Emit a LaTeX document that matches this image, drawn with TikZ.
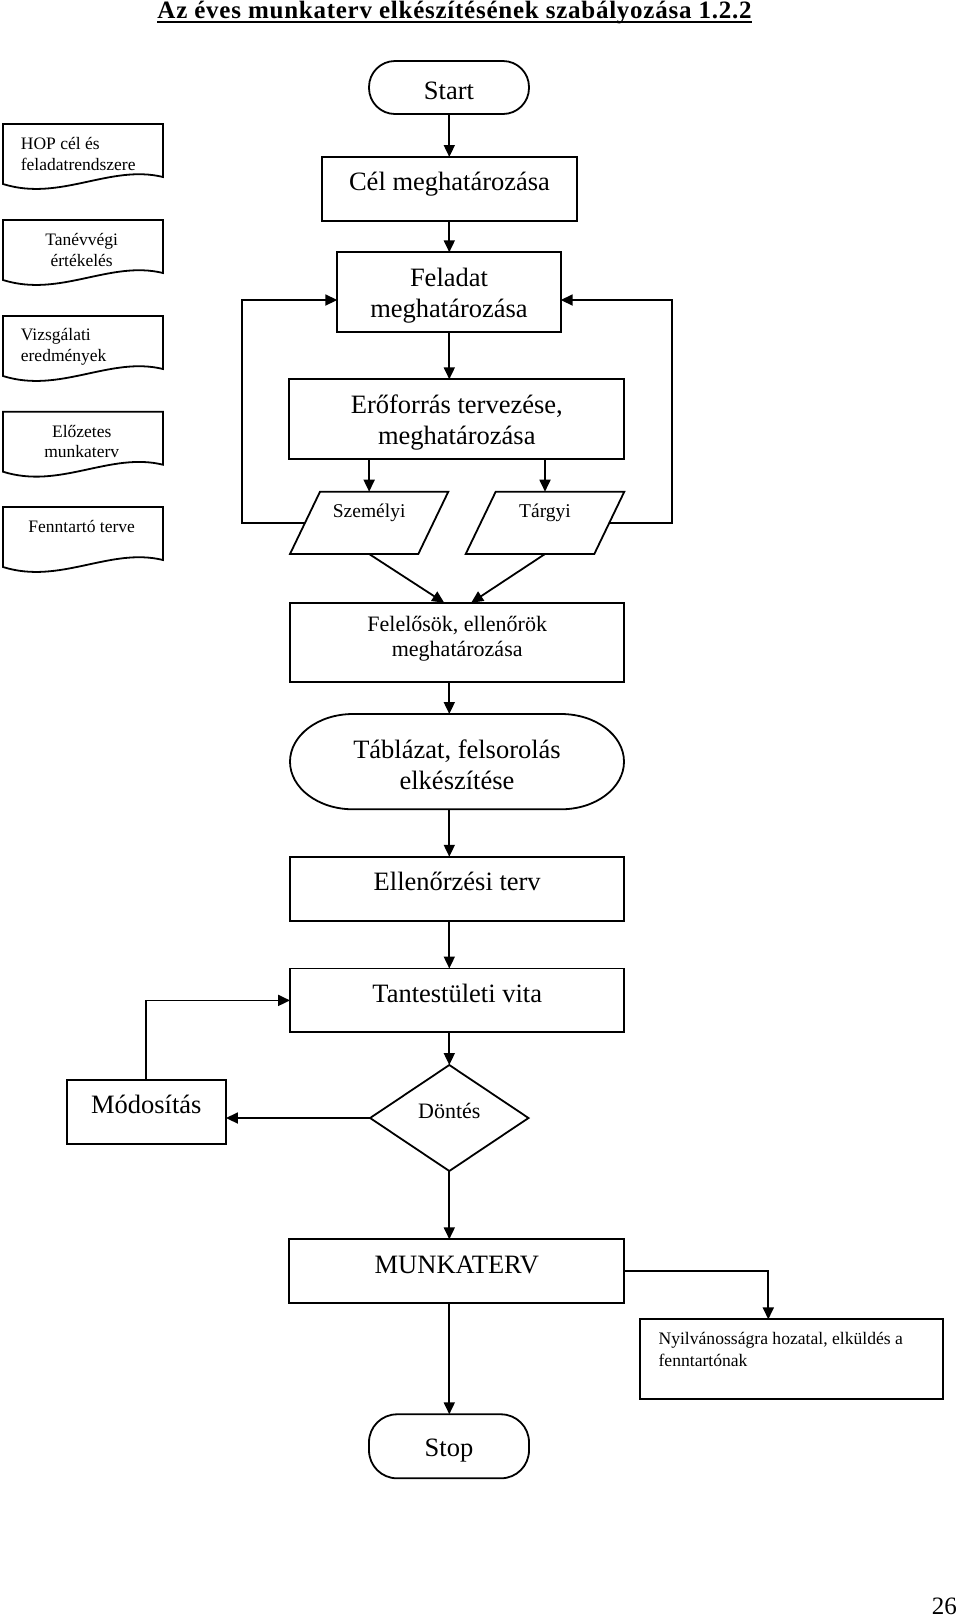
\documentclass[tikz,border=0pt]{standalone}
\usepackage{fontspec}
\setmainfont{Liberation Serif}
\usetikzlibrary{arrows.meta,shapes.geometric,calc}
\newcommand{\fsz}[2]{\fontsize{#1}{#2}\selectfont}
\begin{document}
\begin{tikzpicture}[x=1pt,y=-1pt,
  line/.style={line width=1.8pt},
  box/.style={draw, line width=1.8pt, inner sep=0pt, outer sep=0pt, align=center},
  ghost/.style={inner sep=0pt, outer sep=0pt},
  arr/.style={line width=1.8pt, -{Triangle[length=12pt,width=11pt]}},
  big/.style={font=\fsz{26.5}{31}},
  single/.style={text height=0.7em, text depth=0.32em},
  docl/.style={inner sep=0pt, align=left, font=\fsz{17.5}{20.5}},
  docc/.style={inner sep=0pt, align=center, font=\fsz{17.5}{20.5}},
]
\useasboundingbox (0,0) rectangle (960,1618);
\fill[white] (0,0) rectangle (960,1618);

% title
\node[inner sep=0pt, anchor=base, font=\fsz{25}{29}\bfseries\addfontfeature{LetterSpace=3}] (title) at (454.5,18.5) {Az éves munkaterv elkészítésének szabályozása 1.2.2};
\draw[line width=1.5pt] ([yshift=-3.5pt]title.base west) -- ([yshift=-3.5pt]title.base east);

\coordinate (ax) at (449.3,0);

% left documents
\foreach \T in {124,220,316,411.7,507} {
  \draw[line] (3,\T) -- (163,\T) -- (163,\T+53) .. controls (110,\T+40) and (60,\T+78) .. (3,\T+60) -- cycle;
}
\node[docl, anchor=west] (hop) at (20.7,154) {HOP cél és\\feladatrendszere};
\node[docc] (tanev) at (81.7,250) {Tanévvégi\\értékelés};
\node[docl, anchor=west] (vizs) at (20.7,346.7) {Vizsgálati\\eredmények};
\node[docc] (elo) at (81.7,441.7) {Előzetes\\munkaterv};
\node[docc] (fenn) at (81.7,526.7) {Fenntartó terve};

% main column
\node[box, rounded corners=26pt, minimum width=160pt, minimum height=53pt, label={[big, yshift=-3pt]center:Start}] (start) at (449,87.5) {};
\node[box, big, single, minimum width=255pt, minimum height=64pt] (cel) at (449.5,189) {Cél meghatározása};
\node[box, minimum width=223.4pt, minimum height=79.4pt, label={[big, align=center, yshift=-3.5pt]center:{Feladat\\meghatározása}}] (felad) at (449,292) {};
\node[box, minimum width=335pt, minimum height=80pt, label={[big, align=center, yshift=-3.5pt]center:{Erőforrás tervezése,\\meghatározása}}] (ero) at (456.8,419.3) {};

\node[ghost, minimum width=158.3pt, minimum height=62.3pt, label={[yshift=10pt, font=\fsz{19.5}{22}]center:Személyi}] (szem) at (369.15,522.85) {};
\node[ghost, minimum width=158.6pt, minimum height=62.3pt, label={[yshift=10pt, font=\fsz{19.5}{22}]center:Tárgyi}] (targ) at (545,522.85) {};
\draw[line] (szem.south west) -- ([xshift=30pt]szem.north west) -- (szem.north east) -- ([xshift=-30pt]szem.south east) -- cycle;
\draw[line] (targ.south west) -- ([xshift=30pt]targ.north west) -- (targ.north east) -- ([xshift=-30pt]targ.south east) -- cycle;

\node[box, minimum width=334.3pt, minimum height=79pt, label={[yshift=3pt, font=\fsz{22}{25}, align=center]center:{Felelősök, ellenőrök\\meghatározása}}] (fel) at (457.2,642.2) {};

\node[ghost, minimum width=334pt, minimum height=95.3pt, label={[big, align=center, yshift=-3pt]center:{Táblázat, felsorolás\\elkészítése}}] (tab) at (457,761.65) {};
\draw[line] ([xshift=63pt]tab.north west) -- ([xshift=-63pt]tab.north east) arc[start angle=-90, end angle=90, x radius=63, y radius=47.65] -- ([xshift=63pt]tab.south west) arc[start angle=90, end angle=270, x radius=63, y radius=47.65] -- cycle;

\node[box, big, single, minimum width=334.3pt, minimum height=64.3pt] (ell) at (457.2,888.9) {Ellenőrzési terv};
\node[box, big, single, minimum width=334.3pt, minimum height=63.8pt] (tant) at (457.2,1000.4) {Tantestületi vita};
\node[draw, line, diamond, minimum width=158.4pt, minimum height=106pt, inner sep=0pt, outer sep=0pt, label={[yshift=7pt, font=\fsz{22}{26}]center:Döntés}] (dont) at (449.3,1118) {};
\node[box, big, single, minimum width=159.3pt, minimum height=64pt] (mod) at (146.3,1112) {Módosítás};
\node[box, big, single, minimum width=335pt, minimum height=64pt] (munk) at (456.8,1271.3) {MUNKATERV};
\node[box, minimum width=303.3pt, minimum height=79.7pt, label={[anchor=north west, xshift=15pt, yshift=-9.5pt, align=left, font=\fsz{17.6}{21.7}]north west:{Nyilvánosságra hozatal, elküldés a\\fenntartónak}}] (nyil) at (791.7,1359.2) {};
\node[box, rounded corners=28pt, minimum width=160pt, minimum height=64pt, label={[big, yshift=-4pt]center:Stop}] (stop) at (449,1446.3) {};

\node[inner sep=0pt, anchor=base east, font=\fsz{25}{29}] (pg) at (957,1614) {26};

% connectors
\draw[arr] (start.south -| ax) -- (cel.north -| ax);
\draw[arr] (cel.south -| ax) -- (felad.north -| ax);
\draw[arr] (felad.south -| ax) -- (ero.north -| ax);
\draw[arr] (ero.south -| szem.north) -- (szem.north);
\draw[arr] (ero.south -| targ.north) -- (targ.north);
\draw[arr] ([xshift=15pt]szem.west) -- ++(-63,0) |- ([yshift=-8pt]felad.west);
\draw[arr] ([xshift=-15.8pt]targ.east) -- ++(63.8,0) |- ([yshift=-8pt]felad.east);
\draw[arr] (szem.south) -- ([xshift=-13pt]fel.north);
\draw[arr] (targ.south) -- ([xshift=14pt]fel.north);
\draw[arr] (fel.south -| ax) -- (tab.north -| ax);
\draw[arr] (tab.south -| ax) -- (ell.north -| ax);
\draw[arr] (ell.south -| ax) -- (tant.north -| ax);
\draw[arr] (tant.south -| ax) -- (dont.north);
\draw[arr] (dont.west) -- (dont.west -| mod.east);
\draw[arr] (mod.north) |- (tant.west);
\draw[arr] (dont.south) -- (munk.north -| ax);
\draw[arr] (munk.south -| ax) -- (stop.north -| ax);
\draw[arr] (munk.east) -| ([xshift=-23.4pt]nyil.north);
\end{tikzpicture}
\end{document}
